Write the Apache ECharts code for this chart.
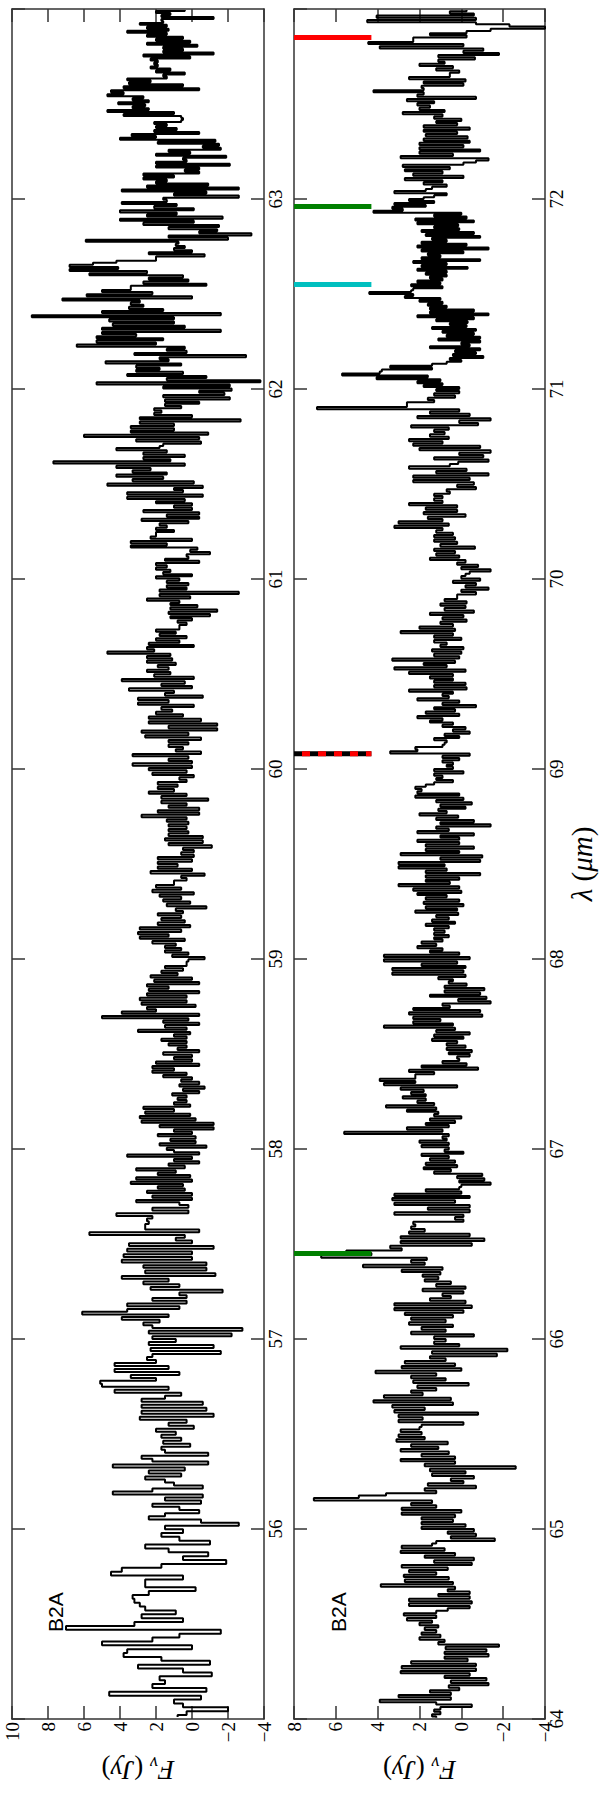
<!DOCTYPE html>
<html><head><meta charset="utf-8">
<script src="https://cdn.jsdelivr.net/npm/echarts@6.0.0/dist/echarts.min.js"></script>
<style>
html,body{margin:0;padding:0;background:#fff;width:600px;height:1800px;overflow:hidden;}
#chart{position:absolute;left:0;top:0;width:1800px;height:600px;transform-origin:0 0;transform:translateY(1800px) rotate(-90deg);}
</style></head><body><div id="chart"></div>
<script>
// ---------- DATA (flux in Jy, listed with increasing wavelength) ----------
// Upper panel: 55-64 micron, segment edges (micron)
const lamEdgesTop = [55.00, 56.00, 56.15, 57.00, 57.72, 59.13, 60.56, 61.98, 63.04, 64.00];
const fluxT1 = [0.8,0.3,-2.0,0.5,1.0,-0.5,4.6,-0.8,2.2,1.5,1.8,-1.1,0.5,3.0,-1.0,1.7,3.8,3.6,0.0,5.0,2.2,0.7,-1.6,7.0,3.2,0.5,2.8,0.9,2.6,2.9,3.2,3.3,2.4,-0.2,2.6,2.6,0.5,4.5,3.9,1.7,-1.9,0.5,-0.9,1.3,2.6,-1.0,0.7,1.7,0.5];
const fluxT2 = [1.5,-2.6,-0.5,2.4,1.5,-0.4,0.7,2.2,-0.5];
const fluxT3 = [1.5,-0.6,4.4,2.2,-0.6,1.0,1.5,2.6,0.6,2.4,0.4,4.4,-0.9,2.2,2.8,-0.9,1.5,1.7,0.1,1.6,0.6,1.7,0.9,2.0,-0.1,1.3,0.3,2.9,-1.2,2.8,-0.8,2.8,-0.6,2.8,1.5,0.6,4.3,1.3,5.0,5.1,2.0,3.4,0.7,4.3,1.3,4.3,2.0,2.5,2.2,-1.6,2.3,-1.2,2.4,0.9];
const fluxT4 = [2.2,-2.2,2.4,-2.8,2.2,2.7,1.8,3.9,1.3,6.1,3.6,0.7,3.6,0.3,2.2,0.3,0.7,-1.7,2.3,0.7,2.7,1.3,3.9,-1.3,2.6,-0.8,2.7,-0.8,3.9,0.0,3.8,0.0,3.6,-1.2,3.5,0.0,0.9,0.4,5.7,-0.4,2.6,2.6,2.4,2.5,2.2,4.2,0.2,2.2,0.2,0.7];
const fluxT5 = [3.1,0.0,2.2,0.0,2.5,0.4,1.9,0.5,3.4,0.0,3.1,0.1,1.9,0.9,3.1,0.4,1.3,-0.4,1.0,0.0,3.6,-0.4,1.0,1.4,-0.8,1.8,-0.2,1.2,-0.2,1.9,0.0,1.0,-1.2,1.8,-1.2,2.8,-0.2,2.9,0.1,2.6,1.0,2.7,0.1,1.0,0.3,0.8,0.3,1.1,-0.4,0.5,-0.7,0.7,-0.4,0.6,0.0,1.6,0.3,2.2,1.0,2.2,-0.4,2.0,0.0,1.0,0.0,1.6,-0.4,0.8,0.3,1.3,0.3,1.7,0.3,1.0,0.1,3.0,0.3,1.5,-0.4,1.6,0.2,5.0,-0.4,3.9,2.0,2.5,-0.2,2.8,0.3,2.9,0.3,2.5,-0.4,2.4,1.3,2.5,-0.4,2.1,0.0,2.3,0.8,1.7,0.5,1.5,0.3,0.3,0.2,-0.7,1.1,0.2,1.5,0.6,1.5,0.9,2.2,0.4,2.9,1.3];
const fluxT6 = [3.0,0.6,2.9,0.1,1.9,0.4,1.7,0.6,1.9,0.5,0.9,-0.8,1.4,0.1,1.6,0.6,1.8,-0.1,2.2,0.6,2.0,1.0,1.0,0.3,0.6,-0.7,2.3,0.0,1.9,0.8,1.9,0.0,1.9,-0.1,0.6,-0.1,0.5,-1.1,1.3,-0.6,1.5,-0.6,1.3,0.2,1.3,0.3,1.3,0.2,1.4,0.3,2.8,-0.4,1.9,-0.4,1.3,0.3,1.7,-0.9,1.7,0.3,2.4,1.0,1.9,0.8,1.9,0.3,0.7,-0.1,2.2,0.3,2.4,0.0,3.3,0.0,1.3,0.2,3.3,-0.5,0.9,0.5,1.3,0.2,1.3,-0.5,2.6,0.2,2.8,-1.4,1.3,-1.4,2.4,-0.5,2.4,0.5,2.0,1.1,1.7,-0.1,3.0,1.3,3.0,-0.6,1.5,1.0,3.5,0.0,1.7,0.4,3.9,-0.1,2.1,1.2,2.5,1.3,1.9,0.9];
const fluxT7 = [2.5,1.1,2.5,1.2,4.7,2.1,2.5,-0.1,2.4,0.7,2.0,0.3,1.8,0.9,2.0,0.7,0.7,0.3,0.8,0.0,1.2,-1.0,1.3,-1.4,1.2,-0.3,1.2,0.7,2.5,0.1,1.8,-2.6,1.8,0.3,1.4,0.2,1.4,0.7,2.0,0.0,1.6,1.2,2.0,1.4,2.0,-0.4,1.5,0.2,0.3,-1.0,0.1,-0.3,3.4,1.4,3.4,0.0,2.3,2.0,2.0,1.0,2.0,1.4,1.8,0.2,2.8,-0.4,1.4,-0.4,2.7,0.0,1.0,0.0,2.0,0.4,3.6,-0.6,3.6,0.5,1.0,-0.6,4.7,-0.1,3.3,1.6,4.2,1.4,3.3,2.3,4.2,0.4,7.7,1.2,2.7,0.4,2.7,1.4,4.2,1.8,1.6,-0.5,3.1,-0.4,6.0,-0.9,3.4,1.0,3.4,1.0,2.9,-2.7,2.9,0.0,2.1,1.7,2.1,0.6,1.5,-0.4,1.5,-2.1,1.6,-1.8];
const fluxT8 = [-0.4,-2.2,1.6,-2.1,5.3,-3.8,1.4,-0.8,3.6,0.5,3.1,1.8,3.1,0.6,4.8,1.3,1.8,-3.0,3.2,0.3,1.4,0.4,6.4,2.0,5.3,1.6,5.3,3.1,5.0,-1.6,5.0,0.4,4.4,1.0,4.6,1.0,8.9,-1.6,5.0,1.6,3.5,2.7,3.4,2.9,7.2,0.0,5.85,2.2,5.0,3.4,3.4,-0.8,2.7,0.2,2.4,0.5,5.7,2.5,6.8,4.1,6.8,5.5,4.2,2.0,2.0,-0.7,2.4,0.0,1.0,0.4,0.9,0.75,5.9,-2.0,1.3,-3.3,-0.4,-1.4,1.3,-1.5,2.7,-0.1,4.0,-1.7,2.5,0.85,4.0,-0.1,2.1,0.85,3.9,1.4,1.6,-2.6,1.0,-0.8];
const fluxT9 = [3.9,-2.6,2.5,-0.9,2.0,1.4,2.7,1.0,2.7,-0.4,0.4,-0.4,2.0,-2.1,2.0,0.3,0.5,-1.9,2.0,0.1,1.3,-1.6,-0.6,-1.5,1.9,-1.3,4.0,2.0,3.35,-0.4,2.1,0.85,2.0,1.4,2.1,0.6,0.5,0.6,3.8,1.0,4.7,2.4,3.3,2.6,4.1,2.4,3.3,2.7,4.7,3.8,4.5,-0.4,3.8,0.5,3.5,2.3,3.6,1.4,1.6,0.4,2.0,1.2,2.3,1.9,2.1,1.9,2.3,0.1,2.7,-1.2,1.6,0.5,1.6,-0.3,2.5,0.1,2.0,0.5,2.5,1.4,3.6,1.3,2.5,1.4,2.9,1.6,1.7,-1.2,1.7,1.2,2.0,0.4];

// Lower panel: 64-73 micron, segment edges (micron)
const lamEdgesBottom = [64.00, 65.00, 65.15, 66.00, 66.73, 68.15, 69.57, 70.99, 72.03, 73.00];
const fluxB1 = [1.2,1.4,1.0,1.3,1.0,-0.5,1.2,3.9,0.5,3.0,0.5,1.5,0.1,0.6,-1.3,0.5,-1.2,0.8,-0.4,2.9,-0.7,2.85,-0.7,2.4,-0.3,0.8,-1.3,0.8,-1.2,0.75,-1.8,1.1,0.8,2.0,1.0,1.9,1.2,1.75,1.1,2.0,1.4,2.6,1.2,2.75,1.2,0.65,-0.4,2.5,-0.5,2.5,-0.4,1.1,-0.4,0.65,0.3,3.85,0.4,2.7,0.6,2.75,1.2,2.5,0.65,2.85,-0.5,1.3,-0.6,1.75,0.3,2.9,0.8,2.85,1.4,1.2,-1.6,0.5,-0.7,0.65,-0.6];
const fluxB2 = [1.9,-0.2,1.9,0.4,1.9,0.3,2.85,0.0,2.85,1.2,2.4,1.4];
const fluxB3 = [7.05,4.9,3.6,1.2,1.75,-0.7,1.6,-0.1,0.5,-0.6,1.4,-0.2,1.5,-2.6,1.75,0.3,2.9,0.3,1.9,0.6,2.9,1.1,2.4,0.65,3.1,1.75,3.0,1.9,2.9,2.0,1.9,-0.1,3.0,1.85,3.0,-0.8,3.2,1.75,3.3,0.4,4.2,0.5,3.7,1.85,2.4,1.2,2.1,-0.35,2.3,0.75,2.4,1.2,4.1,0.0,2.85,0.3,2.7,0.75,1.5,-1.7,1.4,-2.2,2.9,0.1,1.3,0.75];
const fluxB4 = [1.3,-0.6,2.4,0.75,1.9,0.4,2.5,0.75,2.4,0.4,2.7,-0.1,3.2,-0.5,3.2,-0.2,1.5,0.5,0.9,-0.1,1.85,-0.2,1.2,0.5,1.75,1.1,1.85,1.0,2.85,0.9,4.7,1.75,2.4,1.65,6.7,4.3,5.5,2.85,3.4,-0.5,2.9,-1.1,2.9,-0.4,2.5,1.75,2.4,2.2,2.3,-0.1,0.3,-0.1,3.2,-0.4,1.6,-0.4,3.2,0.3];
const fluxB5 = [3.3,-0.4,3.2,0.0,1.7,0.1,0.0,-1.4,0.1,-1.1,0.2,-1.0,1.3,0.5,1.8,0.2,1.7,0.3,1.5,0.6,1.9,-0.1,0.8,0.6,1.9,0.6,2.0,0.7,0.9,0.6,5.6,0.9,2.6,0.6,1.7,0.3,1.5,0.0,1.3,1.1,2.6,1.2,3.6,1.3,2.1,1.7,2.8,1.7,2.4,1.8,2.9,0.2,3.7,2.2,3.9,2.2,2.2,1.3,2.5,-0.8,1.9,-0.25,0.9,0.1,0.2,-0.4,0.6,-0.5,0.7,-0.2,0.7,0.2,1.4,-0.1,1.3,-0.4,1.2,0.3,3.7,0.4,2.3,1.0,2.3,-1.0,2.5,-0.9,2.3,0.55,0.9,-1.4,0.15,-1.2,1.5,-0.9,0.8,-1.1,0.8,-0.25,0.6,0.4,1.1,-0.2,3.3,-0.1,3.3,-0.2,1.9,0.2,3.7,-0.4,3.7,0.1,1.5,0.9,2.1,1.2,1.9,0.9,1.3,0.6,1.3,0.8];
const fluxB6 = [1.3,0.6,1.7,0.3,1.4,0.6,1.2,0.15,2.2,0.2,1.7,-0.1,1.8,0.1,1.7,0.7,2.1,0.0,2.3,0.1,3.0,0.55,1.7,0.1,1.7,-0.9,1.7,0.7,3.0,0.8,3.0,-0.9,1.0,-1.0,2.9,0.1,1.7,-0.6,1.7,0.1,2.1,0.1,1.0,-0.6,2.1,0.6,1.2,-1.4,1.0,-0.6,1.2,0.15,2.0,0.7,1.1,-0.2,1.0,-0.5,1.2,-0.1,2.2,0.1,2.1,1.9,2.2,1.7,1.3,0.4,1.2,0.9,1.3,-0.1,1.3,0.4,0.7,0.4,0.9,0.1,0.9,-0.4,3.4,2.1,2.2,0.9,0.8,0.7,1.3,0.1,0.8,-0.4,0.4,-0.2,0.9,0.4,1.5,0.9,2.1,0.1,1.7,0.3,1.3,-0.7,0.9,0.1,2.1,0.6,0.9,0.4,2.5,-0.25,1.3,-0.2,1.3,0.4,1.5,0.4,2.5,-0.2,3.2,0.7,1.8,0.3];
const fluxB7 = [3.3,0.1,1.3,0.0,1.4,-0.1,1.0,0.7,1.3,0.0,1.3,0.4,2.9,0.3,2.0,0.4,1.0,-0.25,0.9,-0.1,1.5,-0.6,0.8,-0.2,1.0,-0.25,0.8,0.2,0.2,-0.7,0.0,-1.3,-0.2,-0.7,0.4,-0.9,0.0,-0.2,-0.4,-1.4,0.0,-0.8,0.2,-0.2,1.5,0.1,1.2,0.3,1.3,-0.65,1.0,0.2,1.3,0.3,1.3,0.4,1.2,0.9,3.2,0.6,3.0,0.9,1.6,-0.2,1.8,0.2,1.7,0.2,2.5,0.9,1.3,0.9,1.3,0.55,0.7,-0.7,0.2,-0.6,2.3,-0.4,2.3,-1.3,1.2,-0.25,2.5,0.55,0.15,-1.3,1.3,-1.05,0.1,-1.4,2.0,-0.9,2.3,0.9,2.5,0.6,1.5,0.8,1.3,0.6,2.4,-0.8,0.1,-1.4,2.1,-0.4,1.5,0.1,6.9,2.6,2.6,1.3,1.6,0.3,1.3,0.1];
const fluxB8 = [1.2,0.1,1.8,0.9,2.1,1.0,4.05,1.6,5.7,3.9,3.8,1.4,3.4,1.4,0.7,0.0,0.55,-1.05,0.4,-0.7,0.3,-0.9,1.5,-0.4,0.0,-0.9,1.1,-0.9,0.7,-0.6,0.9,-0.7,1.4,-0.25,0.55,-0.3,1.2,-0.6,2.1,-1.3,1.5,-0.6,1.5,0.7,1.6,0.9,2.0,1.0,2.7,2.3,4.4,2.4,2.3,0.9,2.4,1.0,2.1,0.9,1.5,0.7,1.7,0.7,2.1,-0.3,1.9,0.7,2.3,-0.9,1.9,1.0,1.6,-0.1,1.9,-1.3,2.1,-0.25,1.9,0.7,1.4,-0.9,1.7,-0.6,1.9,0.1,1.3,0.15,2.1,-0.6,2.2,-0.25,1.3,0.0,4.2,2.8,3.3,1.7,3.2,1.3,2.5,1.8,1.3,0.7];
const fluxB9 = [3.2,1.7,1.4,0.7,1.8,0.9,2.7,-0.1,2.3,0.9,2.7,0.55,2.8,-0.1,-0.7,-1.3,2.9,0.4,2.0,-0.9,2.0,-0.1,2.0,-0.4,1.8,-0.3,1.7,0.2,1.8,-0.4,1.8,0.2,1.2,0.0,1.3,0.9,2.8,0.8,2.0,1.5,2.1,1.3,2.6,-0.7,2.1,1.8,4.2,1.8,1.9,-0.1,1.8,-0.2,2.5,0.55,0.55,0.1,1.2,0.4,2.0,0.8,1.1,-0.65,1.1,-1.8,-0.1,-1.05,3.9,-0.1,4.45,2.3,2.3,-0.25,1.5,-0.25,-1.4,-4.0,-2.3,-0.7,4.5,-0.7,4.05,-0.6,0.55,-0.25];

// Line markers in the lower panel (wavelength, micron) and their colours
const markerLambda = [66.45, 69.08, 71.55, 71.96, 72.85];
const markerColor  = ['#008000', 'dash', '#00bfbf', '#008000', '#ff0000'];
const markerFlux   = [8, 4.3];   // flux extent (Jy) of each marker bar

const rangeLambda = [[55, 64], [64, 73]];
const rangeFlux   = [[-4, 10], [-4, 8]];
const panelLabel  = 'B2A';

// ---------- BUILD ----------
function buildSpectrum(edges, segs) {
  const out = [];
  segs.forEach((arr, k) => {
    const a = edges[k], b = edges[k + 1], n = arr.length;
    arr.forEach((v, i) => out.push([a + (i + 0.5) * (b - a) / n, v]));
  });
  return out;
}
const topData = buildSpectrum(lamEdgesTop, [fluxT1, fluxT2, fluxT3, fluxT4, fluxT5, fluxT6, fluxT7, fluxT8, fluxT9]);
const botData = buildSpectrum(lamEdgesBottom, [fluxB1, fluxB2, fluxB3, fluxB4, fluxB5, fluxB6, fluxB7, fluxB8, fluxB9]);

const AX = '#333';
const SERIF = 'Liberation Serif';
const fluxFmt = v => (v < 0 ? '\u2212' + Math.abs(v) : String(v));
const tick = {show: true, inside: true, length: 13, lineStyle: {color: AX, width: 1.5}};
const line = {show: true, onZero: false, lineStyle: {color: AX, width: 1.5}};
const lbl = {color: '#000', fontFamily: SERIF, fontSize: 19};

function xAx(g, pos, rng, show, extra) {
  return Object.assign({
    gridIndex: g, type: 'value', position: pos, min: rng[0], max: rng[1], interval: 1,
    axisLine: line, axisTick: tick, splitLine: {show: false},
    axisLabel: Object.assign({show: show, margin: 2}, lbl)
  }, extra || {});
}
function yAx(g, pos, rng, show, extra) {
  return Object.assign({
    gridIndex: g, type: 'value', position: pos, min: rng[0], max: rng[1], interval: 2,
    axisLine: line, axisTick: tick, splitLine: {show: false},
    axisLabel: Object.assign({show: show, margin: 3, formatter: fluxFmt}, lbl)
  }, extra || {});
}
function richName(sz) {
  return {
    it: {fontStyle: 'italic', fontFamily: SERIF, fontSize: sz, color: '#000'},
    rm: {fontFamily: SERIF, fontSize: sz, color: '#000'},
    sub: {fontStyle: 'italic', fontFamily: SERIF, fontSize: Math.round(sz * 0.65), color: '#000', padding: [Math.round(sz * 0.5), 0, 0, 0]}
  };
}
const fluxName = {
  name: '{it|F}{sub|\u03bd}{rm| (}{it|Jy}{rm|)}', nameLocation: 'middle', nameRotate: 90, nameGap: 35,
  nameTextStyle: {rich: richName(27)}
};

const series = [
  {type: 'line', xAxisIndex: 0, yAxisIndex: 0, data: topData, step: 'middle', symbol: 'none',
   lineStyle: {color: '#000', width: 2}, z: 3},
  {type: 'line', xAxisIndex: 2, yAxisIndex: 2, data: botData, step: 'middle', symbol: 'none',
   lineStyle: {color: '#000', width: 2}, z: 3}
];
markerLambda.forEach((lam, k) => {
  const d = [[lam, markerFlux[0]], [lam, markerFlux[1]]];
  if (markerColor[k] === 'dash') {
    series.push({type: 'line', xAxisIndex: 2, yAxisIndex: 2, data: d, symbol: 'none', clip: false,
      lineStyle: {color: '#000', width: 5, cap: 'butt'}, z: 4});
    series.push({type: 'line', xAxisIndex: 2, yAxisIndex: 2, data: d, symbol: 'none', clip: false,
      lineStyle: {color: '#ff0000', width: 5, cap: 'butt', type: [8, 8], dashOffset: 8}, z: 5});
  } else {
    series.push({type: 'line', xAxisIndex: 2, yAxisIndex: 2, data: d, symbol: 'none', clip: false,
      lineStyle: {color: markerColor[k], width: 5, cap: 'butt'}, z: 4});
  }
});

const option = {
  animation: false,
  backgroundColor: '#fff',
  grid: [
    {left: 81, right: 9, top: 12, height: 252},
    {left: 81, right: 9, top: 294, height: 251}
  ],
  xAxis: [
    xAx(0, 'bottom', rangeLambda[0], true, {axisLabel: Object.assign({show: true, margin: 2, showMinLabel: false, showMaxLabel: false}, lbl)}),
    xAx(0, 'top', rangeLambda[0], false),
    xAx(1, 'bottom', rangeLambda[1], true, {
      axisLabel: Object.assign({show: true, margin: 2, showMinLabel: true, showMaxLabel: false}, lbl),
      name: '{it|\u03bb}{rm| (}{it|\u03bcm}{rm|)}', nameLocation: 'middle', nameGap: 22,
      nameTextStyle: {rich: richName(29)}
    }),
    xAx(1, 'top', rangeLambda[1], false)
  ],
  yAxis: [
    yAx(0, 'left', rangeFlux[0], true, fluxName),
    yAx(0, 'right', rangeFlux[0], false),
    yAx(1, 'left', rangeFlux[1], true, fluxName),
    yAx(1, 'right', rangeFlux[1], false)
  ],
  graphic: [
    {type: 'text', x: 168, y: 55, style: {text: panelLabel, fontFamily: 'Liberation Sans', fontSize: 21, fill: '#000', verticalAlign: 'middle', align: 'left'}},
    {type: 'text', x: 168, y: 338, style: {text: panelLabel, fontFamily: 'Liberation Sans', fontSize: 21, fill: '#000', verticalAlign: 'middle', align: 'left'}}
  ],
  series: series
};
const chart = echarts.init(document.getElementById('chart'), null, {renderer: 'svg', width: 1800, height: 600});
chart.setOption(option);
</script></body></html>
